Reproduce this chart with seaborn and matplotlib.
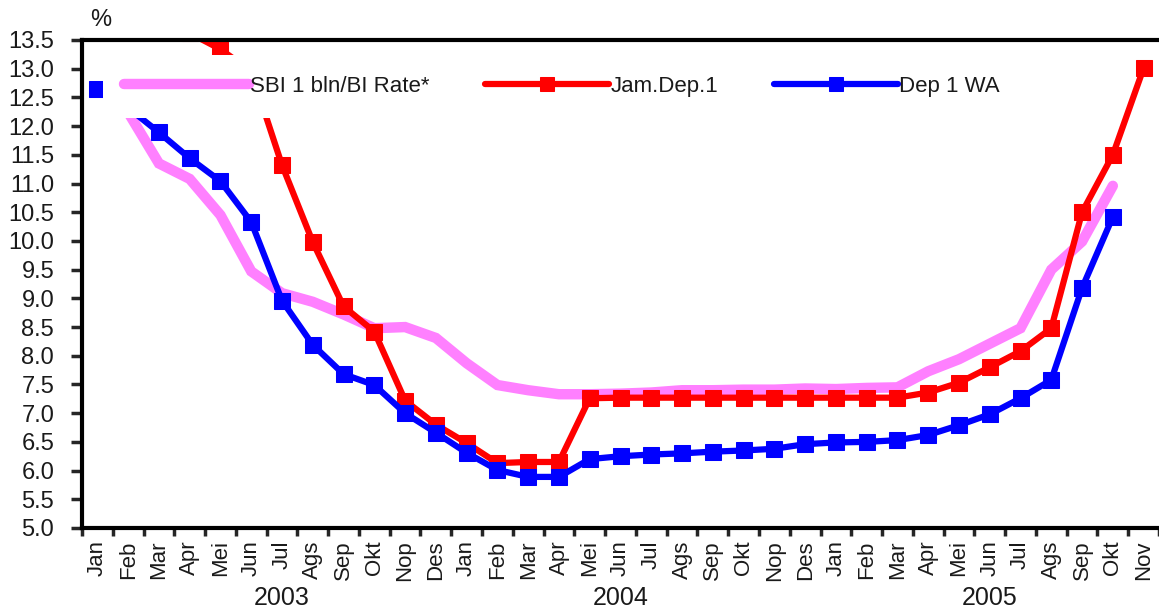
import numpy as np
import pandas as pd
import matplotlib
matplotlib.use('Agg')
import matplotlib.pyplot as plt
import matplotlib.transforms as mtransforms
import seaborn as sns

nan = np.nan

# month labels, Jan 2003 .. Nov 2005
months = ['Jan', 'Feb', 'Mar', 'Apr', 'Mei', 'Jun', 'Jul', 'Ags', 'Sep', 'Okt', 'Nop', 'Des',
          'Jan', 'Feb', 'Mar', 'Apr', 'Mei', 'Jun', 'Jul', 'Ags', 'Sep', 'Okt', 'Nop', 'Des',
          'Jan', 'Feb', 'Mar', 'Apr', 'Mei', 'Jun', 'Jul', 'Ags', 'Sep', 'Okt', 'Nov']
years = ['2003', '2004', '2005']
year_pos = [6, 17, 29]

sbi_rate = [12.69, 12.24, 11.35, 11.08, 10.45, 9.47, 9.09, 8.94, 8.72, 8.48, 8.50, 8.31,
            7.87, 7.49, 7.40, 7.33, 7.33, 7.34, 7.36, 7.40, 7.40, 7.41, 7.41, 7.43,
            7.42, 7.44, 7.45, 7.73, 7.94, 8.21, 8.48, 9.50, 9.99, 10.96, nan]
jam_dep = [14.8, 14.4, 14.0, 13.62, 13.34, 12.95, 11.32, 9.98, 8.86, 8.42, 7.22, 6.80,
           6.48, 6.13, 6.15, 6.15, 7.26, 7.27, 7.27, 7.27, 7.27, 7.27, 7.27, 7.27,
           7.27, 7.27, 7.27, 7.36, 7.53, 7.80, 8.08, 8.48, 10.50, 11.50, 13.01]
dep_wa = [12.65, 12.32, 11.89, 11.44, 11.04, 10.33, 8.96, 8.19, 7.68, 7.49, 7.00, 6.66,
          6.31, 6.01, 5.89, 5.89, 6.20, 6.25, 6.28, 6.30, 6.33, 6.35, 6.38, 6.46,
          6.49, 6.50, 6.53, 6.62, 6.79, 6.98, 7.26, 7.58, 9.18, 10.42, nan]

df = pd.DataFrame({'idx': np.arange(len(months)), 'sbi': sbi_rate,
                   'jam': jam_dep, 'wa': dep_wa})

sns.set_style('white')
plt.rcParams['font.family'] = ['Liberation Sans', 'DejaVu Sans']
txt_color = '#1a1a1a'
fs = 17

fig = plt.figure(figsize=(11.59, 6.10), dpi=100)
ax = fig.add_axes([82 / 1159, 1 - 528 / 610, 1 - 82 / 1159, (528 - 40) / 610])

sns.lineplot(data=df, x='idx', y='sbi', ax=ax, color='#ff80ff', lw=7.5,
             errorbar=None, label='SBI 1 bln/BI Rate*', solid_joinstyle='miter')
sns.lineplot(data=df, x='idx', y='jam', ax=ax, color='#ff0000', lw=4.5,
             marker='s', markersize=12, markeredgecolor='#ff0000',
             errorbar=None, label='Jam.Dep.1')
sns.lineplot(data=df, x='idx', y='wa', ax=ax, color='#0000ff', lw=4.5,
             marker='s', markersize=12, markeredgecolor='#0000ff',
             errorbar=None, label='Dep 1 WA')

ax.set_xlim(-0.5, len(months) - 0.5)
ax.set_ylim(5.0, 13.5)
ax.set_xlabel('')
ax.set_ylabel('')

ax.set_yticks(np.arange(5.0, 13.51, 0.5))
ax.set_yticklabels([f'{v:.1f}' for v in np.arange(5.0, 13.51, 0.5)],
                   fontsize=fs, color=txt_color)
ax.tick_params(axis='y', direction='out', length=8, width=2.5, pad=12, left=True)

ax.set_xticks(np.arange(-0.5, len(months), 1.0))
ax.set_xticklabels([])
ax.set_xticks(np.arange(len(months)), minor=True)
ax.set_xticklabels(months, minor=True, rotation=90, fontsize=16, color=txt_color)
ax.tick_params(axis='x', which='major', direction='out', length=6, width=2.5, bottom=True)
ax.tick_params(axis='x', which='minor', length=0, pad=9)

for side in ['left', 'top', 'bottom']:
    ax.spines[side].set_linewidth(3)
    ax.spines[side].set_color('black')
ax.spines['right'].set_visible(False)

trans = mtransforms.blended_transform_factory(ax.transData, ax.transAxes)
for yr, pos in zip(years, year_pos):
    ax.text(pos, -0.143, yr, transform=trans, ha='center', va='center',
            fontsize=18, color=txt_color)
ax.text(0.017, 1.041, '%', transform=ax.transAxes, ha='center', va='center',
        fontsize=fs, color=txt_color)

leg = ax.legend(loc='upper left', bbox_to_anchor=(0.0195, 0.969), ncol=3,
                frameon=True, framealpha=1, edgecolor='white', fancybox=False,
                fontsize=16, handlelength=5.6, handletextpad=0.05,
                columnspacing=2.5, borderpad=0.95, borderaxespad=0,
                markerscale=0.8, labelcolor=txt_color)
leg.get_frame().set_linewidth(0)

fig.savefig('out.png', dpi=100, facecolor='white')
